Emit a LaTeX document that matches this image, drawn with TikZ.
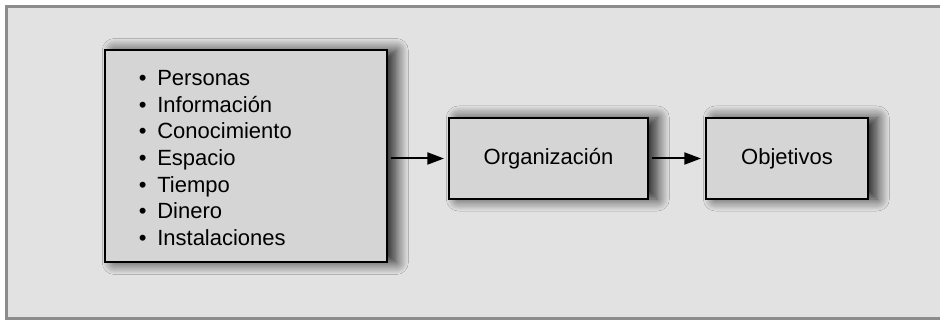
\documentclass[tikz,border=0pt]{standalone}
\usepackage{fontspec}
\setmainfont{Liberation Sans}
\usepackage{tikz}
\usetikzlibrary{shadows.blur}
\usetikzlibrary{arrows.meta}

\definecolor{fondo}{RGB}{226,226,226}
\definecolor{marco}{RGB}{140,140,140}
\definecolor{caja}{RGB}{213,213,213}

\tikzset{
  recurso/.style={draw=black, line width=1.5pt, fill=caja, inner sep=0pt,
    blur shadow={shadow xshift=7pt, shadow yshift=0pt, shadow blur radius=9pt, shadow blur steps=12, shadow opacity=85}},
  flecha/.style={line width=1.5pt, -{Triangle[length=12.5pt,width=9pt]}, shorten <=2.2pt, shorten >=3pt},
  texto/.style={inner sep=0pt, font=\fontsize{16.5}{20}\selectfont}
}

\begin{document}
\begin{tikzpicture}[x=0.75pt,y=0.75pt,yscale=-1,xscale=1]
\useasboundingbox (0,0) rectangle (940,320);
\clip (0,0) rectangle (940,320);

%Shape: Rectangle [fondo]
\draw [draw=marco, fill=fondo, line width=2.25pt] (6.5,6.5) rectangle (950,318.5) ;

%Shape: Rectangle [recursos]
\node [recurso, minimum width=211.5pt, minimum height=159pt] (rec) at (246,156.5) {};
%Shape: Rectangle [organizacion]
\node [recurso, minimum width=149.25pt, minimum height=60.75pt] (org) at (548.5,158.5) {};
%Shape: Rectangle [objetivos]
\node [recurso, minimum width=121.5pt, minimum height=60.75pt] (obj) at (787,158.5) {};

%Straight Lines [rec -> org]
\draw [flecha] (rec.east |- org.west) -- (org.west) ;
%Straight Lines [org -> obj]
\draw [flecha] (org.east) -- (obj.west) ;

% Text Node
\node [texto, anchor=north west, align=left] (lista) at (138.5,70) {%
\makebox[13.9pt][l]{•}Personas\\
\makebox[13.9pt][l]{•}Información\\
\makebox[13.9pt][l]{•}Conocimiento\\
\makebox[13.9pt][l]{•}Espacio\\
\makebox[13.9pt][l]{•}Tiempo\\
\makebox[13.9pt][l]{•}Dinero\\
\makebox[13.9pt][l]{•}Instalaciones};
% Text Node
\node [texto] (torg) at (org.center) {Organización};
% Text Node
\node [texto] (tobj) at (obj.center) {Objetivos};

\end{tikzpicture}
\end{document}
